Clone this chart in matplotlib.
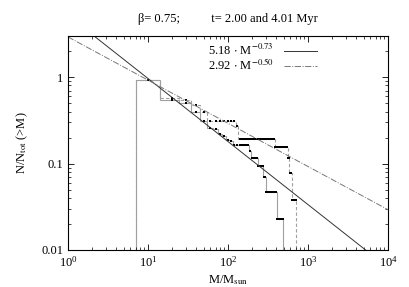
import numpy as np
import matplotlib
matplotlib.use('Agg')
import matplotlib.pyplot as plt

plt.rcParams['font.family'] = ['Liberation Serif', 'DejaVu Serif']
plt.rcParams['mathtext.fontset'] = 'stix'

# cumulative fractions sampled every 10 Msun
m_grid = np.arange(10, 710, 10)

# t = 4.01 Myr (dashed)
late = np.zeros(len(m_grid))
late_levels = [(10, 0.93), (20, 0.57), (30, 0.54), (40, 0.47), (50, 0.40),
               (60, 0.31), (130, 0.27), (140, 0.194), (390, 0.155),
               (560, 0.117), (590, 0.077), (630, 0.038)]
# t = 2.00 Myr (solid)
early = np.zeros(len(m_grid))
early_levels = [(10, 0.93), (20, 0.55), (30, 0.50), (40, 0.40), (50, 0.31),
                (60, 0.26), (70, 0.25), (80, 0.22), (90, 0.21), (100, 0.185),
                (110, 0.18), (120, 0.166), (190, 0.138), (200, 0.117),
                (240, 0.094), (280, 0.07), (300, 0.047), (410, 0.023)]
late_max = 700
early_max = 480

for arr, levels, mmax in [(late, late_levels, late_max), (early, early_levels, early_max)]:
    for m0, v in levels:
        arr[(m_grid >= m0) & (m_grid <= mmax)] = v

# power-law fits
fit_a, fit_b = 5.18, -0.73
fit2_a, fit2_b = 2.92, -0.50

fig = plt.figure(figsize=(4.09, 2.87), dpi=100)
ax = fig.add_axes([0.166, 0.129, 0.783, 0.746])

for vals, mmax, ls in [(early, early_max, '-'), (late, late_max, (0, (3, 2)))]:
    sel = m_grid <= mmax
    m = m_grid[sel]
    v = vals[sel]
    mids = np.sqrt(m[:-1] * m[1:])
    edges = np.concatenate([[m[0] / np.sqrt(2)], mids, [np.sqrt(m[-1] * (m[-1] + 10))]])
    ax.stairs(v, edges, baseline=1e-4, color='#a0a0a0', lw=0.8, linestyle=ls)
    ax.plot(m, v, 's', color='black', ms=1.7, mew=0)

mm = np.logspace(0, 4, 200)
ax.plot(mm, fit_a * mm ** fit_b, '-', color='#333333', lw=0.7,
        label=r'5.18 $\cdot$ M$^{-0.73}$')
ax.plot(mm, fit2_a * mm ** fit2_b, '-.', color='#777777', lw=0.7,
        label=r'2.92 $\cdot$ M$^{-0.50}$')

ax.set_xscale('log')
ax.set_yscale('log')
ax.set_xlim(1, 1e4)
ax.set_ylim(0.01, 3)
ax.set_yticks([0.01, 0.1, 1])
ax.set_yticklabels(['0.01', '0.1', '1'])
ax.tick_params(which='both', direction='in', top=True, right=True, labelsize=9)
ax.tick_params(which='major', length=4, width=0.6)
ax.tick_params(which='minor', length=2, width=0.5)
for s in ax.spines.values():
    s.set_linewidth(0.8)

ax.set_xlabel(r'M/M$_{\rm sun}$', fontsize=9, labelpad=3)
ax.set_ylabel(r'N/N$_{\rm tot}$ (>M)', fontsize=9, labelpad=8)
ax.set_title('β= 0.75;          t= 2.00 and 4.01 Myr', fontsize=9, pad=10)

ax.legend(loc='upper right', bbox_to_anchor=(0.8, 1.0), frameon=False,
          markerfirst=False, fontsize=9, handlelength=2.6, labelspacing=-0.1,
          borderaxespad=0.2)

fig.savefig('out.png', dpi=100)
